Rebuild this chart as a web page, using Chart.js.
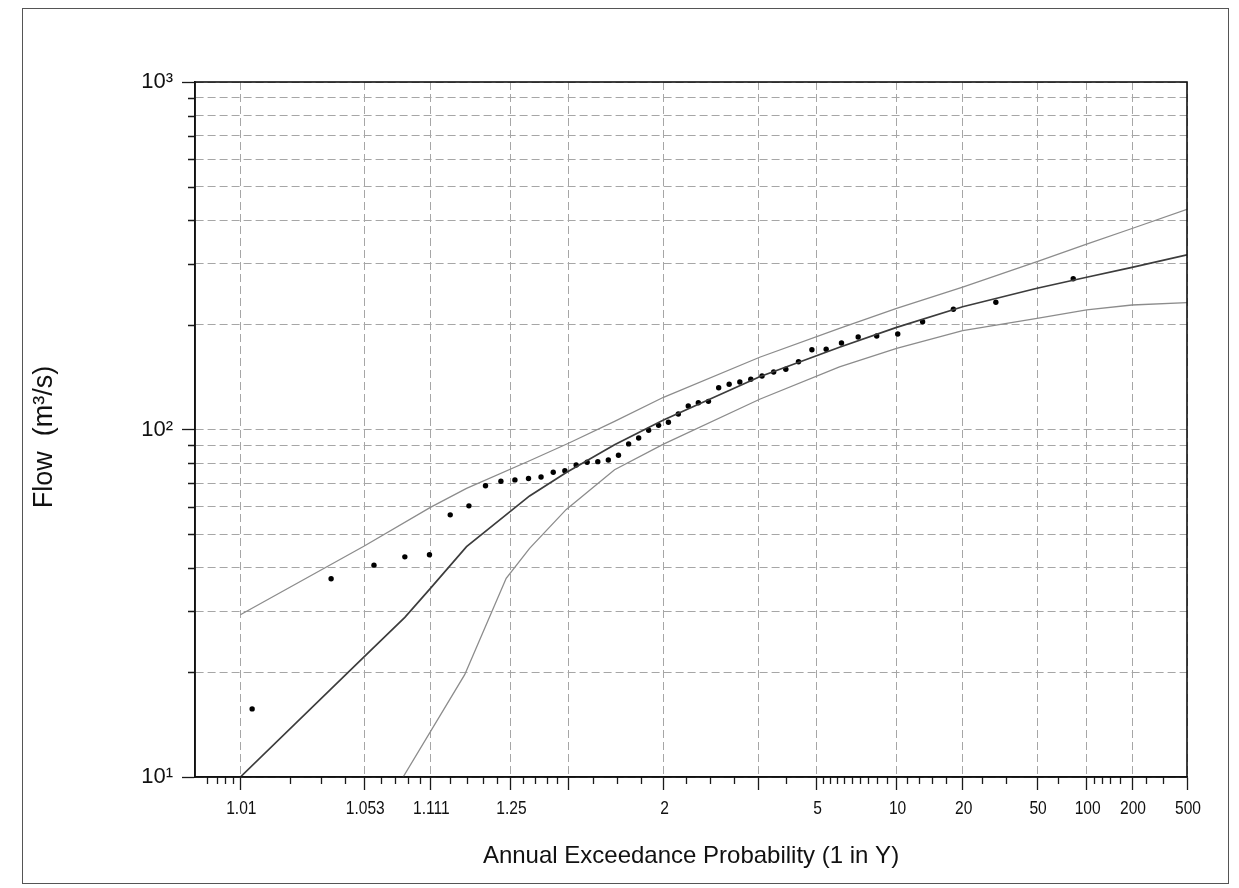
<!DOCTYPE html>
<html>
<head>
<meta charset="utf-8">
<script src="https://cdn.jsdelivr.net/npm/chart.js@4/dist/chart.umd.min.js"></script>
<style>
  html, body { margin: 0; padding: 0; background: #ffffff; }
  #wrap { width: 1239px; height: 888px; position: relative; }
</style>
</head>
<body>
<div id="wrap"><canvas id="c" width="1239" height="888"></canvas></div>
<script>
// ---------------- DATA ----------------
// Observed annual maxima: return period "1 in Y" and flow (m3/s)
const obsY = [1.012, 1.035, 1.059, 1.084, 1.110, 1.137, 1.166, 1.196, 1.228, 1.261,
              1.297, 1.334, 1.374, 1.416, 1.461, 1.509, 1.560, 1.615, 1.673, 1.736,
              1.804, 1.878, 1.958, 2.044, 2.139, 2.243, 2.358, 2.485, 2.626, 2.785,
              2.964, 3.168, 3.401, 3.672, 3.990, 4.367, 4.824, 5.388, 6.101, 7.030,
              8.295, 10.11, 12.96, 18.02, 29.56, 82.36];
const obsFlow = [15.7, 37.2, 40.7, 43.0, 43.6, 56.8, 60.3, 68.9, 71.0, 71.6,
                 72.3, 73.0, 75.3, 76.1, 79.0, 80.5, 80.8, 81.7, 84.3, 90.9,
                 94.5, 99.5, 102.8, 104.9, 110.8, 116.8, 119.4, 120.5, 131.9, 134.9,
                 137.0, 139.5, 142.6, 146.4, 149.0, 156.7, 169.7, 170.2, 177.4, 184.6,
                 185.8, 188.3, 204.3, 221.8, 232.3, 271.6];

// Fitted frequency curve
const fitY    = [1.0101, 1.0526, 1.084, 1.1111, 1.162, 1.30, 1.42, 1.65, 2, 3.35, 6.0, 10, 20, 50, 100, 200, 500];
const fitFlow = [10.0, 22.2, 28.8, 34.9, 46.0, 64.4, 75.1, 90.4, 106.5, 141.9, 172.4, 196.8, 225.5, 254.9, 274.2, 292.9, 317.9];

// Upper confidence limit
const upperY    = [1.0101, 1.0526, 1.1111, 1.162, 1.30, 1.43, 1.65, 2, 3.35, 6.0, 10, 20, 50, 100, 200, 500];
const upperFlow = [29.3, 46.2, 59.7, 67.7, 81.3, 91.3, 105.5, 123.8, 161.4, 195.5, 223.2, 257.0, 304.1, 341.5, 378.8, 430.1];

// Lower confidence limit
const lowerY    = [1.0824, 1.159, 1.240, 1.30, 1.4215, 1.65, 2, 3.35, 6.0, 10, 20, 50, 100, 200, 500];
const lowerFlow = [10.0, 19.7, 37.3, 45.5, 58.9, 76.6, 90.8, 122.2, 151.5, 171.3, 192.5, 208.9, 220.8, 228.2, 231.7];

// X axis (1 in Y) ticks
const xMinY = 1.005025, xMaxY = 500;
const xMajorY      = [1.0101, 1.0526, 1.1111, 1.25, 2, 5, 10, 20, 50, 100, 200, 500];
const xMajorLabels = ['1.01', '1.053', '1.111', '1.25', '2', '5', '10', '20', '50', '100', '200', '500'];
const xUnlabeledMajorY = [1.4286, 3.3333];
const xMinorY = [1.00604, 1.00705, 1.00806, 1.00908, 1.0204, 1.0309, 1.0417,
                 1.0638, 1.0753, 1.0870, 1.0989, 1.1364, 1.1628, 1.1905, 1.2195,
                 1.2821, 1.3158, 1.3514, 1.3889, 1.5385, 1.6667, 1.8182,
                 2.2222, 2.5, 2.8571, 4, 5.2632, 5.5556, 5.8824, 6.25, 6.6667,
                 7.1429, 7.6923, 8.3333, 9.0909, 11.111, 12.5, 14.286, 16.667,
                 25, 33.333, 66.667, 111.11, 125, 142.86, 166.67, 250, 333.33];

// Y axis (log) ticks
const yMin = 10, yMax = 1000;
const yMajorVals = [10, 100, 1000];
const yMajorLabels = ['10\u00B9', '10\u00B2', '10\u00B3'];
const yMinorVals = [20, 30, 40, 50, 60, 70, 80, 90, 200, 300, 400, 500, 600, 700, 800, 900];

// ---------------- PROBABILITY SCALE ----------------
function normInv(p) {
  const a = [-3.969683028665376e+01, 2.209460984245205e+02, -2.759285104469687e+02, 1.383577518672690e+02, -3.066479806614716e+01, 2.506628277459239e+00];
  const b = [-5.447609879822406e+01, 1.615858368580409e+02, -1.556989798598866e+02, 6.680131188771972e+01, -1.328068155288572e+01];
  const c = [-7.784894002430293e-03, -3.223964580411365e-01, -2.400758277161838e+00, -2.549732539343734e+00, 4.374664141464968e+00, 2.938163982698783e+00];
  const d = [7.784695709041462e-03, 3.224671290700398e-01, 2.445134137142996e+00, 3.754408661907416e+00];
  const pl = 0.02425, ph = 1 - pl;
  let q, r;
  if (p < pl) {
    q = Math.sqrt(-2 * Math.log(p));
    return (((((c[0]*q+c[1])*q+c[2])*q+c[3])*q+c[4])*q+c[5]) / ((((d[0]*q+d[1])*q+d[2])*q+d[3])*q+1);
  }
  if (p > ph) {
    q = Math.sqrt(-2 * Math.log(1 - p));
    return -(((((c[0]*q+c[1])*q+c[2])*q+c[3])*q+c[4])*q+c[5]) / ((((d[0]*q+d[1])*q+d[2])*q+d[3])*q+1);
  }
  q = p - 0.5; r = q * q;
  return (((((a[0]*r+a[1])*r+a[2])*r+a[3])*r+a[4])*r+a[5])*q / (((((b[0]*r+b[1])*r+b[2])*r+b[3])*r+b[4])*r+1);
}
const zOf = T => normInv(1 - 1 / T);
const pts = (xs, ys) => xs.map((T, i) => ({ x: zOf(T), y: ys[i] }));

// ---------------- FONTS ----------------
function hasFont(name) {
  const c = document.createElement('canvas').getContext('2d');
  const s = '1.053 1.111 Annual Exceedance';
  c.font = '20px monospace';
  const w0 = c.measureText(s).width;
  c.font = '20px "' + name + '", monospace';
  return Math.abs(c.measureText(s).width - w0) > 0.5;
}
const narrow = hasFont('Liberation Sans Narrow');
const xLabelFont = narrow ? '19px "Liberation Sans Narrow"' : '19px "Liberation Sans", Arial, sans-serif';
const xLabelSqueeze = narrow ? 1 : 0.82;

const xMajorZ = xMajorY.map(zOf);
const xUnlabZ = xUnlabeledMajorY.map(zOf);

const extras = {
  id: 'extras',
  afterDraw(chart) {
    const { ctx, chartArea: a, scales: { x, y } } = chart;
    ctx.save();
    // minor tick marks
    ctx.strokeStyle = '#1a1a1a';
    ctx.lineWidth = 1.3;
    ctx.beginPath();
    xMinorY.forEach(T => {
      const px = Math.round(x.getPixelForValue(zOf(T))) + 0.5;
      ctx.moveTo(px, a.bottom); ctx.lineTo(px, a.bottom + 7);
    });
    yMinorVals.forEach(v => {
      const py = Math.round(y.getPixelForValue(v)) + 0.5;
      ctx.moveTo(a.left - 7, py); ctx.lineTo(a.left, py);
    });
    ctx.stroke();
    // x tick labels (condensed face)
    ctx.fillStyle = '#111';
    ctx.font = xLabelFont;
    ctx.textAlign = 'center';
    ctx.textBaseline = 'alphabetic';
    xMajorY.forEach((T, i) => {
      const px = x.getPixelForValue(zOf(T));
      ctx.save();
      ctx.translate(px + 1, a.bottom + 37);
      ctx.scale(xLabelSqueeze, 1);
      ctx.fillText(xMajorLabels[i], 0, 0);
      ctx.restore();
    });
    // plot box
    ctx.lineWidth = 1.6;
    ctx.strokeStyle = '#111';
    ctx.strokeRect(a.left, a.top, a.right - a.left, a.bottom - a.top);
    // page frame
    ctx.lineWidth = 1;
    ctx.strokeStyle = '#555';
    ctx.strokeRect(22.5, 8.5, 1206, 875);
    ctx.restore();
  }
};

new Chart(document.getElementById('c'), {
  type: 'scatter',
  data: {
    datasets: [
      { label: 'Upper', data: pts(upperY, upperFlow), showLine: true, pointRadius: 0,
        borderColor: '#8c8c8c', borderWidth: 1.3, fill: false, tension: 0 },
      { label: 'Lower', data: pts(lowerY, lowerFlow), showLine: true, pointRadius: 0,
        borderColor: '#8c8c8c', borderWidth: 1.3, fill: false, tension: 0 },
      { label: 'Fit', data: pts(fitY, fitFlow), showLine: true, pointRadius: 0,
        borderColor: '#3c3c3c', borderWidth: 1.7, fill: false, tension: 0 },
      { label: 'Observed', data: pts(obsY, obsFlow), showLine: false, pointRadius: 2.7,
        pointBorderWidth: 0, backgroundColor: '#000', borderColor: '#000' }
    ]
  },
  options: {
    responsive: false,
    animation: false,
    devicePixelRatio: 1,
    layout: { autoPadding: false, padding: { left: 0, right: 52, top: 82, bottom: 0 } },
    plugins: { legend: { display: false }, tooltip: { enabled: false } },
    scales: {
      x: {
        type: 'linear',
        min: zOf(xMinY), max: zOf(xMaxY),
        afterFit: s => { s.height = 111; },
        afterBuildTicks: s => {
          const t = [];
          xMajorZ.forEach(z => t.push({ value: z, major: true }));
          xUnlabZ.forEach(z => t.push({ value: z, major: true }));
          t.sort((p, q) => p.value - q.value);
          s.ticks = t;
        },
        ticks: { display: false, autoSkip: false, maxRotation: 0, minRotation: 0 },
        grid: {
          color: '#a6a6a6', lineWidth: 1, tickLength: 13,
          tickColor: '#1a1a1a', tickWidth: 1.3
        },
        border: { display: true, color: '#111', width: 1.6, dash: [8, 4] },
        title: {
          display: true, text: 'Annual Exceedance Probability (1 in Y)',
          color: '#111', font: { family: '"Liberation Sans", Arial, sans-serif', size: 24 },
          padding: { top: 0, bottom: 17 }
        }
      },
      y: {
        type: 'logarithmic',
        min: yMin, max: yMax,
        afterFit: s => { s.width = 195; },
        afterBuildTicks: s => {
          const t = [];
          yMajorVals.forEach(v => t.push({ value: v, major: true }));
          yMinorVals.forEach(v => t.push({ value: v, major: false }));
          t.sort((p, q) => p.value - q.value);
          s.ticks = t;
        },
        ticks: {
          autoSkip: false, padding: 9, color: '#111',
          font: { family: '"Liberation Sans", Arial, sans-serif', size: 22 },
          callback: v => {
            const i = yMajorVals.indexOf(v);
            return i >= 0 ? yMajorLabels[i] : '';
          }
        },
        grid: {
          color: '#a6a6a6', lineWidth: 1, tickLength: 13,
          tickColor: c => (c.tick && c.tick.major) ? '#1a1a1a' : 'rgba(0,0,0,0)',
          tickWidth: c => (c.tick && c.tick.major) ? 1.3 : 0
        },
        border: { display: true, color: '#111', width: 1.6, dash: [8, 4] },
        title: {
          display: true, text: 'Flow  (m\u00B3/s)\u00A0\u00A0',
          color: '#111', font: { family: '"Liberation Sans", Arial, sans-serif', size: 27 },
          padding: { top: 28, bottom: 0 }
        }
      }
    }
  },
  plugins: [extras]
});
</script>
</body>
</html>
